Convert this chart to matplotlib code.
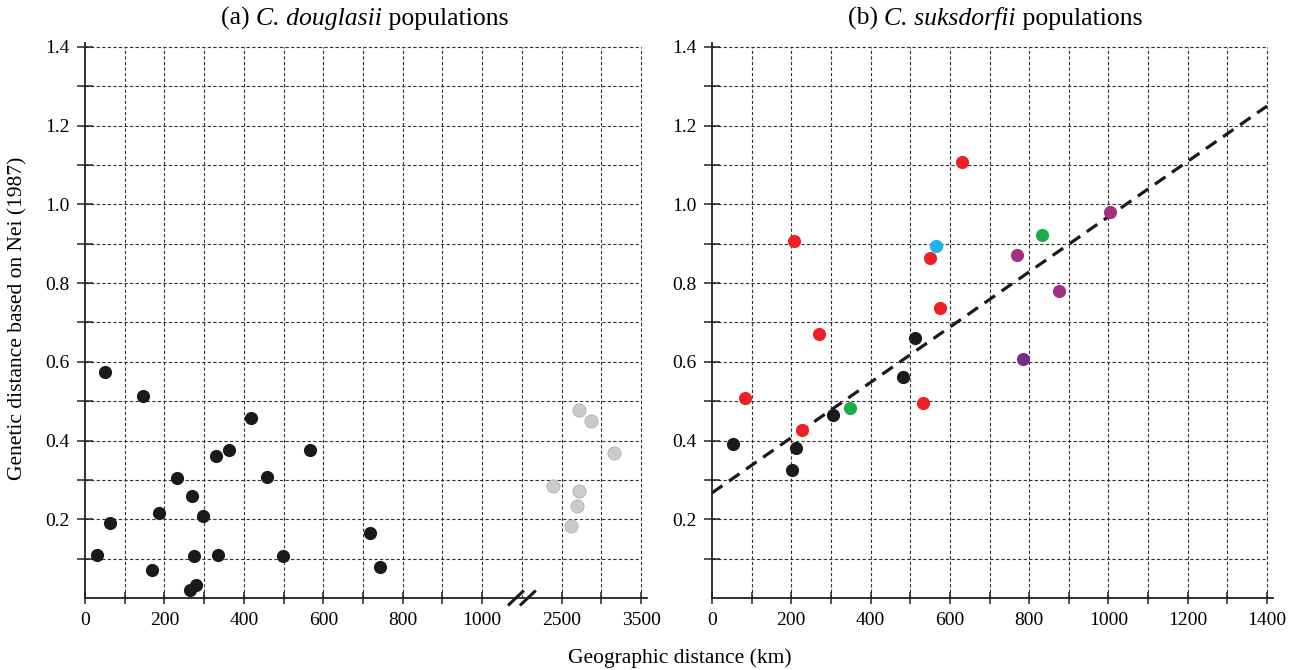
import numpy as np
import matplotlib.pyplot as plt

plt.rcParams['font.family'] = ['Liberation Serif', 'DejaVu Serif']

# ---- (a) C. douglasii: pairs within 1000 km (black) and far pairs (grey, 2500-3500 km)
doug_km = [50, 147, 418, 330, 363, 567, 459, 231, 270, 186, 296, 63, 718,
           29, 275, 334, 498, 168, 743, 280, 265]
doug_gd = [0.575, 0.512, 0.457, 0.360, 0.375, 0.375, 0.308, 0.306, 0.258,
           0.215, 0.208, 0.190, 0.164, 0.108, 0.106, 0.108, 0.106, 0.071,
           0.079, 0.034, 0.020]
far_km = [2715, 2870, 3155, 2390, 2720, 2695, 2615]
far_gd = [0.478, 0.450, 0.369, 0.284, 0.273, 0.234, 0.183]

# ---- (b) C. suksdorfii, coloured by group
suk_groups = {
    'black':  ([54, 212, 203, 306, 483, 513],
               [0.392, 0.382, 0.325, 0.465, 0.562, 0.660], '#1a1a1a'),
    'red':    ([631, 208, 550, 574, 269, 83, 531, 227],
               [1.108, 0.906, 0.864, 0.737, 0.670, 0.507, 0.496, 0.428], '#ee2027'),
    'cyan':   ([564], [0.894], '#1fb4e6'),
    'green':  ([832, 349], [0.921, 0.482], '#1aab4b'),
    'purple': ([770, 875, 1003], [0.872, 0.779, 0.981], '#a2307f'),
    'violet': ([785], [0.606], '#7b2b8e'),
}
fit_intercept = 0.267
fit_slope = 0.000702

x_ticks_a = [0, 200, 400, 600, 800, 1000, 1200, 1400]
x_labels_a = ['0', '200', '400', '600', '800', '1000', '2500', '3500']
x_ticks_b = [0, 200, 400, 600, 800, 1000, 1200, 1400]
y_ticks = [0.2, 0.4, 0.6, 0.8, 1.0, 1.2, 1.4]


def far_to_axis(km):
    # broken axis: 2500 km sits at position 1200, 500 km per 100 units after the break
    return 1200 + (np.asarray(km) - 2500) / 5.0


def mixed_title(fig, xc, y, parts, size):
    # parts: list of (text, style); laid out left to right, then centred on xc
    texts = []
    prev = None
    for txt, style in parts:
        if prev is None:
            t = fig.text(0, y, txt, fontsize=size, style=style, va='baseline')
        else:
            t = fig.text(0, 0, txt, fontsize=size, style=style, va='baseline',
                         transform=None)
        texts.append(t)
        prev = t
    fig.canvas.draw()
    r = fig.canvas.get_renderer()
    W = fig.bbox.width
    widths = [t.get_window_extent(r).width for t in texts]
    x = xc * W - sum(widths) / 2
    ybase = y * fig.bbox.height
    for t, w in zip(texts, widths):
        t.set_transform(None)
        t.set_position((x, ybase))
        x += w


fig = plt.figure(figsize=(12.97, 6.70), dpi=100)
W, H = 1297, 670
ax_a = fig.add_axes([85 / W, 1 - 598 / H, 562 / W, 555 / H])
ax_b = fig.add_axes([712 / W, 1 - 598 / H, 561 / W, 555 / H])

for ax in (ax_a, ax_b):
    ax.set_xlim(0, 1415)
    ax.set_ylim(0, 1.41)
    for s in ('top', 'right'):
        ax.spines[s].set_visible(False)
    for s in ('left', 'bottom'):
        ax.spines[s].set_linewidth(1.3)
        ax.spines[s].set_color('#222222')
    ax.vlines(np.arange(100, 1401, 100), 0, 1.4, colors='#333333',
              linestyles=(0, (3, 2)), linewidth=0.8, zorder=0)
    ax.hlines(np.arange(1, 15) / 10, 0, 1400, colors='#333333',
              linestyles=(0, (3, 2)), linewidth=0.8, zorder=0)
    ax.set_yticks(y_ticks)
    ax.set_yticks(np.arange(1, 14, 2) / 10, minor=True)
    ax.set_yticklabels([f'{v:.1f}' for v in y_ticks])
    ax.tick_params(which='both', labelsize=14, color='#222222', width=1.1)
    ax.tick_params(axis='y', which='both', direction='inout', length=12, pad=5)
    ax.tick_params(axis='x', which='both', direction='inout', length=8, pad=6)

# panel (a)
ax_a.set_xticks(x_ticks_a)
ax_a.set_xticklabels(x_labels_a)
ax_a.set_xticks([100, 300, 500, 700, 900, 1300], minor=True)
ax_a.scatter(doug_km, doug_gd, s=90, color='#1a1a1a', zorder=3, linewidths=0)
ax_a.scatter(far_to_axis(far_km), far_gd, s=90, color='#cbcbcb',
             edgecolors='#b0b0b0', linewidths=0.6, zorder=3)
for off in (-15, 15):
    ax_a.plot([1100 + off - 20, 1100 + off + 20], [-0.019, 0.019], color='#1a1a1a',
              lw=2.2, clip_on=False, zorder=5, solid_capstyle='butt')

# panel (b)
ax_b.set_xticks(x_ticks_b)
ax_b.set_xticks(np.arange(100, 1400, 200), minor=True)
for xs, ys, col in suk_groups.values():
    ax_b.scatter(xs, ys, s=90, color=col, zorder=3, linewidths=0)
xfit = np.array([0, 1400])
ax_b.plot(xfit, fit_intercept + fit_slope * xfit, color='#1a1a1a', lw=2.3,
          linestyle=(0, (4, 2.5)), zorder=2)

fig.text(18 / W, 1 - 318 / H, 'Genetic distance based on Nei (1987)', rotation=90,
         ha='center', va='center', fontsize=15.5)
fig.text(680 / W, 1 - 658 / H, 'Geographic distance (km)', ha='center',
         va='center', fontsize=15.5)

mixed_title(fig, 365 / W, 1 - 25 / H,
            [('(a) ', 'normal'), ('C. douglasii', 'italic'), (' populations', 'normal')], 18.5)
mixed_title(fig, 995 / W, 1 - 25 / H,
            [('(b) ', 'normal'), ('C. suksdorfii', 'italic'), (' populations', 'normal')], 18.5)

fig.savefig('out.png', dpi=100)
